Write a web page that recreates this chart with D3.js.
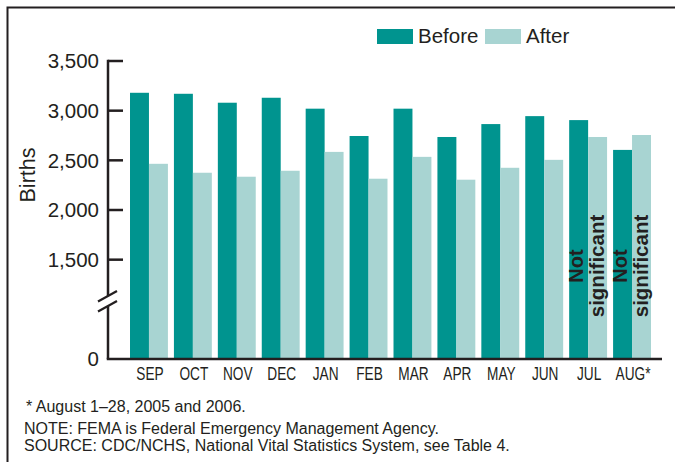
<!DOCTYPE html>
<html>
<head>
<meta charset="utf-8">
<script src="https://cdn.jsdelivr.net/npm/d3@7"></script>
<style>
  html, body { margin: 0; padding: 0; background: #fff; }
  svg { display: block; font-family: "Liberation Sans", Arial, Helvetica, sans-serif; }
</style>
</head>
<body>
<div id="chart"></div>
<script>
// Données
const months = ['SEP', 'OCT', 'NOV', 'DEC', 'JAN', 'FEB', 'MAR', 'APR', 'MAY', 'JUN', 'JUL', 'AUG*'];
const before = [3180, 3170, 3080, 3130, 3020, 2745, 3020, 2735, 2865, 2945, 2905, 2605];
const after = [2465, 2375, 2335, 2395, 2585, 2315, 2535, 2305, 2425, 2505, 2735, 2755];
const seriesNames = ['Before', 'After'];
const yTicks = [1500, 2000, 2500, 3000, 3500];
const breakLabel = '0';
const notSignificant = ['JUL', 'AUG*'];
const footnotes = [
  '* August 1\u201328, 2005 and 2006.',
  'NOTE: FEMA is Federal Emergency Management Agency.',
  'SOURCE: CDC/NCHS, National Vital Statistics System, see Table 4.'
];

const width = 675;
const height = 462;
const ink = '#231f20';
const colors = { Before: '#00948f', After: '#a8d4d2' };

const svg = d3.select('#chart')
  .append('svg')
  .attr('width', width)
  .attr('height', height);

// Cadre (haut + gauche)
svg.append('path')
  .attr('d', `M7.5,${height} V7.5 H${width}`)
  .attr('fill', 'none')
  .attr('stroke', ink)
  .attr('stroke-width', 2);

// Échelles : axe coupé, le bas représente 0
const axisX = 108;
const y = d3.scaleLinear().domain([500, 3500]).range([359, 61]);
const x0 = d3.scaleBand().domain(months).range([127, 654])
  .paddingInner(0.137).paddingOuter(0.0685);
const x1 = d3.scaleBand().domain(seriesNames).range([0, x0.bandwidth()]);

const rows = months.map((m, i) => ({ month: m, values: [
  { key: 'Before', value: before[i] },
  { key: 'After', value: after[i] }
] }));

// Barres
const groups = svg.append('g')
  .selectAll('g')
  .data(rows)
  .enter()
  .append('g')
  .attr('transform', d => `translate(${x0(d.month)},0)`);

groups.selectAll('rect')
  .data(d => d.values)
  .enter()
  .append('rect')
  .attr('x', d => x1(d.key))
  .attr('y', d => y(d.value))
  .attr('width', x1.bandwidth())
  .attr('height', d => y.range()[0] - y(d.value))
  .attr('fill', d => colors[d.key]);

// Axe Y
const yAxis = svg.append('g').attr('stroke', ink).attr('stroke-width', 2.5);
yAxis.append('line')
  .attr('x1', axisX).attr('x2', axisX)
  .attr('y1', y(3500) - 1.25).attr('y2', 296);
yAxis.append('line')
  .attr('x1', axisX).attr('x2', axisX)
  .attr('y1', 306).attr('y2', y.range()[0]);
yAxis.selectAll('.tick')
  .data(yTicks)
  .enter()
  .append('line')
  .attr('x1', axisX).attr('x2', axisX + 15)
  .attr('y1', d => y(d)).attr('y2', d => y(d));

// Signe de coupure
[296, 306].forEach(cy => {
  svg.append('line')
    .attr('x1', axisX - 10).attr('y1', cy + 5.5)
    .attr('x2', axisX + 9).attr('y2', cy - 5)
    .attr('stroke', ink).attr('stroke-width', 2.2);
});

svg.append('g')
  .selectAll('text')
  .data(yTicks)
  .enter()
  .append('text')
  .attr('x', 99)
  .attr('y', d => y(d))
  .attr('dy', '0.36em')
  .attr('text-anchor', 'end')
  .attr('font-size', 20.5)
  .attr('fill', ink)
  .text(d => d3.format(',')(d));

svg.append('text')
  .attr('x', 99)
  .attr('y', y.range()[0])
  .attr('dy', '0.36em')
  .attr('text-anchor', 'end')
  .attr('font-size', 20.5)
  .attr('fill', ink)
  .text(breakLabel);

svg.append('text')
  .attr('transform', `translate(35,175) rotate(-90)`)
  .attr('text-anchor', 'middle')
  .attr('font-size', 21.5)
  .attr('fill', ink)
  .text('Births');

// Axe X
svg.append('line')
  .attr('x1', axisX - 1.25).attr('x2', 662)
  .attr('y1', y.range()[0]).attr('y2', y.range()[0])
  .attr('stroke', ink).attr('stroke-width', 2.5);

// Libellés des mois, police étroite (compressée)
svg.append('g')
  .selectAll('text')
  .data(months)
  .enter()
  .append('text')
  .attr('transform', d => `translate(${x0(d) + x0.bandwidth() / 2 + 1},380) scale(0.76,1)`)
  .attr('text-anchor', 'middle')
  .attr('font-size', 18)
  .attr('fill', ink)
  .text(d => d);

// Annotations "Not significant"
notSignificant.forEach(m => {
  const cy = 266;
  svg.append('text')
    .attr('transform', `translate(${x0(m) + x1('Before') + x1.bandwidth() / 2 + 4},${cy}) rotate(-90)`)
    .attr('text-anchor', 'middle')
    .attr('font-size', 20)
    .attr('font-weight', 'bold')
    .attr('fill', ink)
    .text('Not');
  svg.append('text')
    .attr('transform', `translate(${x0(m) + x1('After') + x1.bandwidth() / 2 + 6},${cy}) rotate(-90)`)
    .attr('text-anchor', 'middle')
    .attr('font-size', 20.5)
    .attr('font-weight', 'bold')
    .attr('fill', ink)
    .text('significant');
});

// Légende
const legendPos = { Before: 377, After: 485 };
seriesNames.forEach(name => {
  const lx = legendPos[name];
  svg.append('rect')
    .attr('x', lx).attr('y', 29)
    .attr('width', 36).attr('height', 15)
    .attr('fill', colors[name]);
  svg.append('text')
    .attr('x', lx + 41).attr('y', 42.5)
    .attr('font-size', 20.5)
    .attr('fill', ink)
    .text(name);
});

// Notes de bas de page
const footY = [412, 434, 451];
footnotes.forEach((t, i) => {
  svg.append('text')
    .attr('x', i === 0 ? 26 : 24)
    .attr('y', footY[i])
    .attr('font-size', 16)
    .attr('fill', ink)
    .text(t);
});
</script>
</body>
</html>
